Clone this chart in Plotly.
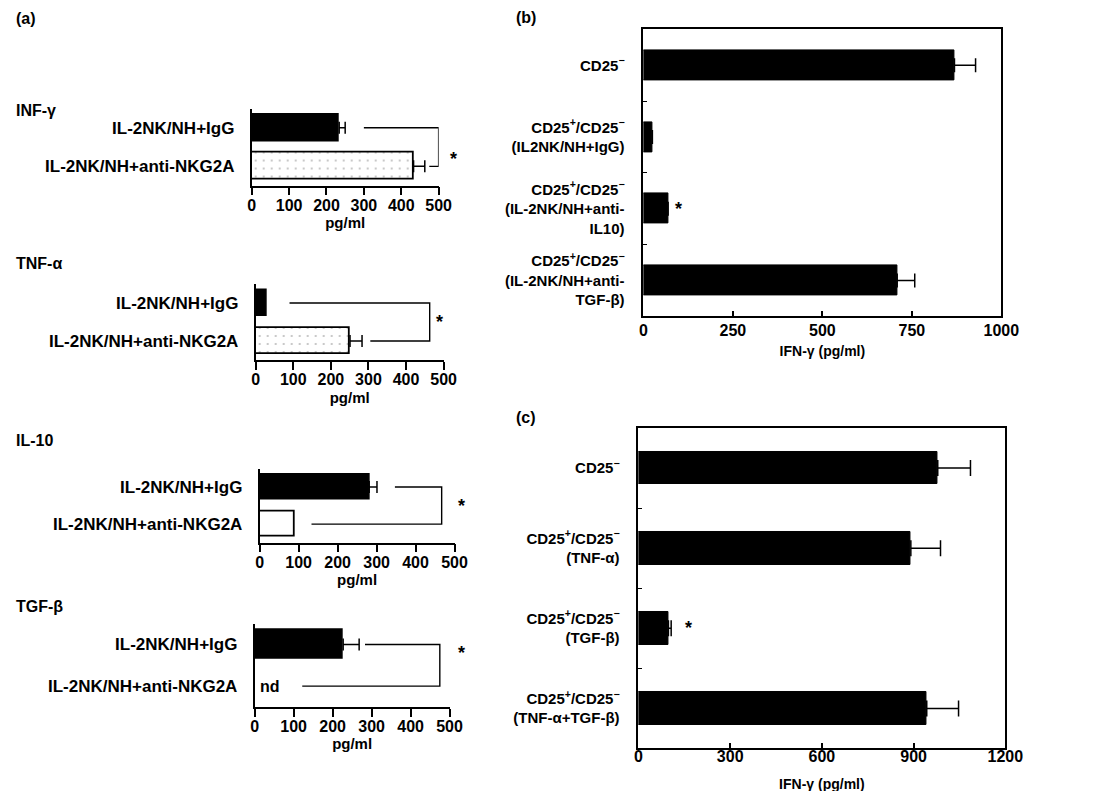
import plotly.graph_objects as go

# ---------------- data ----------------
a_categories = ["IL-2NK/NH+IgG", "IL-2NK/NH+anti-NKG2A"]
a_ticks = [0, 100, 200, 300, 400, 500]

inf_values = [234, 433]
inf_err = [16, 30]
tnf_values = [29, 251]
tnf_err = [0, 32]
il10_values = [281, 89]
il10_err = [20, 0]
tgf_values = [227, None]
tgf_err = [41, 0]

# significance brackets: [start on top row, vertical x, end on bottom row], star x
inf_bracket = [300, 500, 475]
tnf_bracket = [90, 463, 305]
il10_bracket = [347, 467, 133]
tgf_bracket = [283, 475, 122]
a_star_x = [540, 489, 518, 531]

b_categories = [
    "CD25<sup>−</sup>",
    "CD25<sup>+</sup>/CD25<sup>−</sup><br>(IL2NK/NH+IgG)",
    "CD25<sup>+</sup>/CD25<sup>−</sup><br>(IL-2NK/NH+anti-<br>IL10)",
    "CD25<sup>+</sup>/CD25<sup>−</sup><br>(IL-2NK/NH+anti-<br>TGF-β)",
]
b_values = [869, 25, 69, 709]
b_err = [59, 0, 0, 49]
b_ticks = [0, 250, 500, 750, 1000]
b_star_x = 97

c_categories = [
    "CD25<sup>−</sup>",
    "CD25<sup>+</sup>/CD25<sup>−</sup><br>(TNF-α)",
    "CD25<sup>+</sup>/CD25<sup>−</sup><br>(TGF-β)",
    "CD25<sup>+</sup>/CD25<sup>−</sup><br>(TNF-α+TGF-β)",
]
c_values = [979, 891, 98, 943]
c_err = [107, 97, 9, 104]
c_ticks = [0, 300, 600, 900, 1200]
c_star_x = 163

FONT = "Liberation Sans, Arial, sans-serif"
W, H = 1116, 791
PAD = 8          # default page body margin
K = 0.986        # observed page-to-picture scale


def px(s):
    return (s / K - PAD) / W


def py(s):
    return 1 - (s / K - PAD) / H


def xd(a, b):
    return [px(a), px(b)]


def yd(top, bottom):
    return [py(bottom), py(top)]


def bfont(size):
    return dict(size=size, color="black", family=FONT, weight="bold")


fig = go.Figure()

panels_a = [
    ("INF-γ", inf_values, inf_err, inf_bracket, "pattern", xd(249, 437), yd(107, 183), 109),
    ("TNF-α", tnf_values, tnf_err, tnf_bracket, "pattern", xd(253, 442), yd(280, 355), 260),
    ("IL-10", il10_values, il10_err, il10_bracket, "plain", xd(257, 453), yd(462, 535), 434),
    ("TGF-β", tgf_values, tgf_err, tgf_bracket, "plain", xd(252, 448), yd(615, 697), 598),
]

annotations = []
layout_axes = {}

for i, (title, vals, errs, br, style, xdom, ydom, title_y) in enumerate(panels_a):
    n = i + 1
    xa = "x" if n == 1 else f"x{n}"
    ya = "y" if n == 1 else f"y{n}"
    fig.add_trace(go.Bar(
        x=[vals[0]], y=[a_categories[0]], orientation="h", width=0.7,
        marker=dict(color="black", line=dict(color="black", width=1.5)),
        error_x=dict(type="data", array=[errs[0]], arrayminus=[0], symmetric=False,
                     color="black", thickness=1.5, width=6, visible=errs[0] > 0),
        xaxis=xa, yaxis=ya, showlegend=False))
    marker2 = dict(color="white", line=dict(color="black", width=1.8))
    if style == "pattern":
        marker2["pattern"] = dict(shape=".", fgcolor="#777", bgcolor="white", size=8, solidity=0.06)
    fig.add_trace(go.Bar(
        x=[vals[1]], y=[a_categories[1]], orientation="h", width=0.7,
        marker=marker2,
        error_x=dict(type="data", array=[errs[1]], arrayminus=[0], symmetric=False,
                     color="black", thickness=1.5, width=6, visible=errs[1] > 0),
        xaxis=xa, yaxis=ya, showlegend=False))
    fig.add_trace(go.Scatter(
        x=[br[0], br[1], br[1], br[2]],
        y=[a_categories[0], a_categories[0], a_categories[1], a_categories[1]],
        mode="lines", line=dict(color="black", width=1.4), cliponaxis=False,
        xaxis=xa, yaxis=ya, showlegend=False, hoverinfo="skip"))
    # star placed in paper coordinates (may lie beyond the axis range)
    star_px = xdom[0] + a_star_x[i] / 500 * (xdom[1] - xdom[0])
    annotations.append(dict(x=star_px, y=(ydom[0] + ydom[1]) / 2, xref="paper", yref="paper",
                            text="*", showarrow=False, font=bfont(18)))
    annotations.append(dict(x=px(10), y=py(title_y), xref="paper", yref="paper",
                            text=title, showarrow=False, xanchor="left", yanchor="middle",
                            font=bfont(16)))
    if vals[1] is None:
        annotations.append(dict(x=38, y=a_categories[1], xref=xa, yref=ya, text="nd",
                                showarrow=False, font=bfont(16)))
    xkey = "xaxis" if n == 1 else f"xaxis{n}"
    ykey = "yaxis" if n == 1 else f"yaxis{n}"
    layout_axes[xkey] = dict(
        domain=xdom, anchor=ya, range=[0, 500], tickvals=a_ticks, ticks="outside",
        ticklen=8, tickwidth=1.8, tickcolor="black", showline=True, linecolor="black",
        linewidth=1.8, showgrid=False, zeroline=False, ticklabelstandoff=-4,
        tickfont=bfont(16),
        title=dict(text="pg/ml", font=bfont(15), standoff=5))
    layout_axes[ykey] = dict(
        domain=ydom, anchor=xa, type="category", categoryorder="array",
        categoryarray=a_categories, range=[1.5, -0.5], showline=True, linecolor="black",
        linewidth=1.8, ticks="", showgrid=False, zeroline=False, ticklabelstandoff=12,
        tickfont=bfont(17))

# panel b
fig.add_trace(go.Bar(
    x=b_values, y=b_categories, orientation="h", width=0.42,
    marker=dict(color="black", line=dict(color="black", width=1)),
    error_x=dict(type="data", array=b_err, arrayminus=[0] * len(b_err), symmetric=False,
                 color="black", thickness=1.5, width=7),
    xaxis="x5", yaxis="y5", showlegend=False))
annotations.append(dict(x=b_star_x, y=b_categories[2], xref="x5", yref="y5", text="*",
                        showarrow=False, font=bfont(18)))

# panel c
fig.add_trace(go.Bar(
    x=c_values, y=c_categories, orientation="h", width=0.41,
    marker=dict(color="black", line=dict(color="black", width=1)),
    error_x=dict(type="data", array=c_err, arrayminus=[0] * len(c_err), symmetric=False,
                 color="black", thickness=1.5, width=8),
    xaxis="x6", yaxis="y6", showlegend=False))
annotations.append(dict(x=c_star_x, y=c_categories[2], xref="x6", yref="y6", text="*",
                        showarrow=False, font=bfont(18)))

for key, dom_x, dom_y, ticks, cats, rng, tstand, ttl_stand in [
    ("5", xd(643, 1003), yd(29, 312), b_ticks, b_categories, [0, 1000], -2, 9),
    ("6", xd(638, 1007), yd(422, 738), c_ticks, c_categories, [0, 1200], -8, 16),
]:
    layout_axes[f"xaxis{key}"] = dict(
        domain=dom_x, anchor=f"y{key}", range=rng, tickvals=ticks, ticks="inside",
        ticklen=6, tickwidth=1.8, tickcolor="black", showline=True, mirror=True,
        linecolor="black", linewidth=1.8, showgrid=False, zeroline=False,
        ticklabelstandoff=tstand, tickfont=bfont(16),
        title=dict(text="IFN-γ (pg/ml)", font=bfont(14), standoff=ttl_stand))
    layout_axes[f"yaxis{key}"] = dict(
        domain=dom_y, anchor=f"x{key}", type="category", categoryorder="array",
        categoryarray=cats, range=[3.5, -0.5], showline=True, mirror=True,
        linecolor="black", linewidth=1.8, ticks="inside", tickson="boundaries",
        ticklen=4, tickwidth=1.2, tickcolor="black", showgrid=False, zeroline=False,
        ticklabelstandoff=14, tickfont=bfont(15))

for label, x, y in [("(a)", 10, 18), ("(b)", 513, 17), ("(c)", 513, 412)]:
    annotations.append(dict(x=px(x), y=py(y), xref="paper", yref="paper", text=label,
                            showarrow=False, xanchor="left", yanchor="middle",
                            font=bfont(16)))

fig.update_layout(
    width=W, height=H, margin=dict(l=0, r=0, t=0, b=0),
    paper_bgcolor="white", plot_bgcolor="white",
    font=dict(family=FONT, color="black"),
    annotations=annotations, bargap=0, **layout_axes)

fig.write_html("out.html", config={"displayModeBar": False})
